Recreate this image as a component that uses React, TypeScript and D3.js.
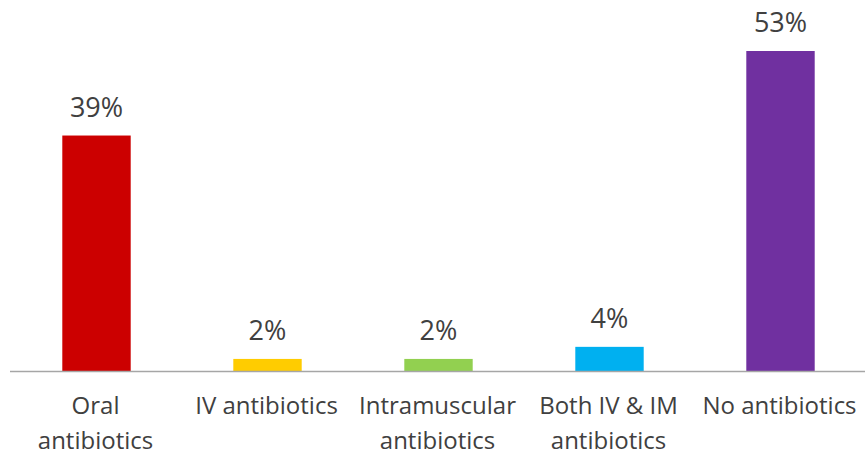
import React, { useEffect, useRef } from "react";
import * as d3 from "d3";

const categories = [
  ["Oral", "antibiotics"],
  ["IV antibiotics"],
  ["Intramuscular", "antibiotics"],
  ["Both IV & IM", "antibiotics"],
  ["No antibiotics"],
];
const values = [39, 2, 2, 4, 53];
const colors = ["#cc0000", "#ffcc00", "#92d050", "#00b0f0", "#7030a0"];

const App: React.FC = () => {
  const svgRef = useRef<SVGSVGElement | null>(null);

  useEffect(() => {
    if (!svgRef.current) return;
    const width = 865;
    const left = 10;
    const baseY = 371;

    const svg = d3.select(svgRef.current);
    svg.selectAll("*").remove();

    const x = d3
      .scaleBand<number>()
      .domain(values.map((_, i) => i))
      .range([left, width])
      .padding(0);
    const barW = x.bandwidth() * 0.4;

    const y = d3.scaleLinear().domain([0, 53]).range([baseY, 51]);

    // bars
    svg
      .selectAll(".bar")
      .data(values)
      .enter()
      .append("rect")
      .attr("class", "bar")
      .attr("x", (_, i) => x(i)! + (x.bandwidth() - barW) / 2 + 1)
      .attr("y", (d) => y(d))
      .attr("width", barW)
      .attr("height", (d) => baseY - y(d))
      .attr("fill", (_, i) => colors[i]);

    // axis line
    svg
      .append("line")
      .attr("x1", left)
      .attr("x2", width)
      .attr("y1", baseY + 0.5)
      .attr("y2", baseY + 0.5)
      .attr("stroke", "#a6a6a6")
      .attr("stroke-width", 1.5);

    // value labels
    svg
      .selectAll(".val")
      .data(values)
      .enter()
      .append("text")
      .attr("class", "val")
      .attr("x", (_, i) => x(i)! + x.bandwidth() / 2 + 1)
      .attr("y", (d) => y(d) - 19)
      .attr("text-anchor", "middle")
      .attr("font-family", "'Open Sans', sans-serif")
      .attr("font-size", "27px")
      .attr("fill", "#404040")
      .text((d) => `${d}%`);

    // category labels
    const cat = svg
      .selectAll(".cat")
      .data(categories)
      .enter()
      .append("text")
      .attr("class", "cat")
      .attr("text-anchor", "middle")
      .attr("font-family", "'Open Sans', sans-serif")
      .attr("font-size", "24px")
      .attr("fill", "#404040");

    cat
      .selectAll("tspan")
      .data((d, i) => d.map((line) => ({ line, i })))
      .enter()
      .append("tspan")
      .attr("x", (d) => x(d.i)! + x.bandwidth() / 2)
      .attr("y", (_, j) => 414 + j * 35)
      .text((d) => d.line);
  }, []);

  return (
    <svg
      ref={svgRef}
      width={865}
      height={455}
      style={{ position: "absolute", left: 0, top: 0, background: "#fff" }}
    />
  );
};

export default App;
